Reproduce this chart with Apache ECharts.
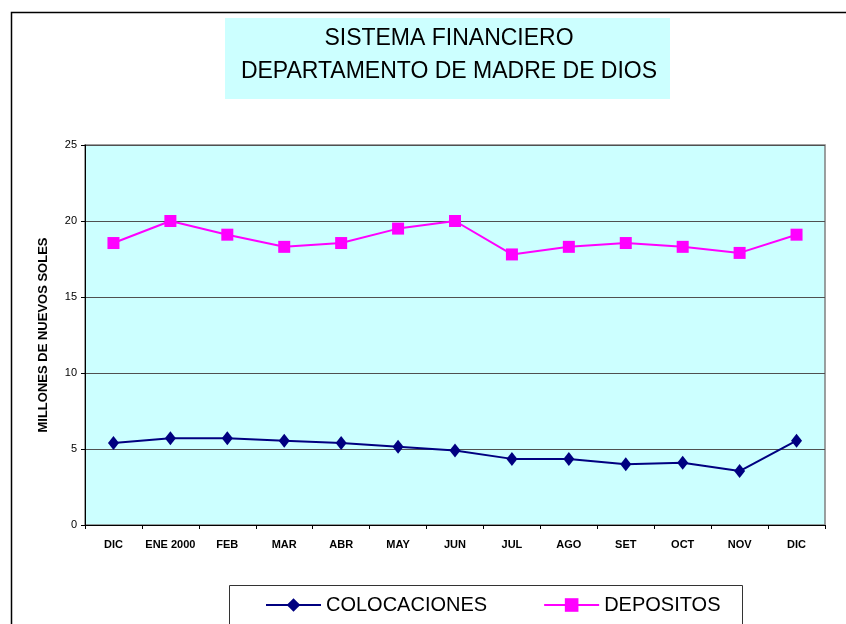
<!DOCTYPE html>
<html>
<head>
<meta charset="utf-8">
<script src="https://cdn.jsdelivr.net/npm/echarts@6/dist/echarts.min.js"></script>
<style>
html,body{margin:0;padding:0;background:#fff;}
#c{width:846px;height:624px;}
</style>
</head>
<body>
<div id="c"></div>
<script>
var categories = ['DIC','ENE 2000','FEB','MAR','ABR','MAY','JUN','JUL','AGO','SET','OCT','NOV','DIC'];
var colocaciones = [5.4,5.7,5.7,5.55,5.4,5.15,4.9,4.35,4.35,4.0,4.1,3.55,5.55];
var depositos = [18.55,20.0,19.1,18.3,18.55,19.5,20.0,17.8,18.3,18.55,18.3,17.9,19.1];
var yTicks = {min:0, max:25, interval:5};
var titleLines = ['SISTEMA FINANCIERO','DEPARTAMENTO DE MADRE DE DIOS'];
var yName = 'MILLONES DE NUEVOS SOLES';

var FONT = '"Liberation Sans", Arial, sans-serif';
var chart = echarts.init(document.getElementById('c'), null, {renderer:'canvas'});
chart.setOption({
  animation:false,
  backgroundColor:'#fff',
  graphic:[
    {type:'rect', z:-10, shape:{x:11.5,y:12.5,width:900,height:700}, style:{fill:'#fff',stroke:'#000',lineWidth:1.5}, silent:true},
    {type:'rect', z:-5, shape:{x:225,y:18,width:445,height:81}, style:{fill:'#CCFFFF'}, silent:true},
    {type:'text', z:1, x:449, y:39, style:{text:titleLines[0], fill:'#000', font:'23px '+FONT, textAlign:'center', textVerticalAlign:'middle'}},
    {type:'text', z:1, x:449, y:72, style:{text:titleLines[1], fill:'#000', font:'23px '+FONT, textAlign:'center', textVerticalAlign:'middle'}},
    {type:'rect', z:-5, shape:{x:229.5,y:585.5,width:513,height:100}, style:{fill:'#fff',stroke:'#333',lineWidth:1}, silent:true}
  ],
  legend:{
    left:260, top:590, itemWidth:55, itemHeight:17, itemGap:56,
    textStyle:{fontFamily:FONT, fontSize:20, color:'#000'},
    data:['COLOCACIONES','DEPOSITOS']
  },
  grid:{left:85, right:21, top:145, bottom:99, show:true, backgroundColor:'#CCFFFF', borderColor:'#808080', borderWidth:1.5},
  xAxis:{
    type:'category', data:categories, boundaryGap:true,
    axisLine:{lineStyle:{color:'#000',width:1}},
    axisTick:{show:true, length:4, lineStyle:{color:'#000'}},
    axisLabel:{fontFamily:FONT, fontSize:11, fontWeight:'bold', color:'#000', margin:14, interval:0},
    splitLine:{show:false}
  },
  yAxis:{
    type:'value', min:yTicks.min, max:yTicks.max, interval:yTicks.interval,
    name:yName, nameLocation:'middle', nameGap:35, nameRotate:90,
    nameTextStyle:{fontFamily:FONT, fontSize:13, fontWeight:'bold', color:'#000'},
    axisLine:{show:true, lineStyle:{color:'#000',width:1}},
    axisTick:{show:true, length:4, lineStyle:{color:'#000'}},
    axisLabel:{fontFamily:FONT, fontSize:11, color:'#000', margin:8},
    splitLine:{show:true, lineStyle:{color:'#505050', width:1}}
  },
  series:[
    {name:'COLOCACIONES', type:'line', data:colocaciones, symbol:'diamond', symbolSize:[11,14],
     lineStyle:{color:'#000080', width:2}, itemStyle:{color:'#000080'}},
    {name:'DEPOSITOS', type:'line', data:depositos, symbol:'rect', symbolSize:12,
     lineStyle:{color:'#FF00FF', width:2}, itemStyle:{color:'#FF00FF'}}
  ]
});
</script>
</body>
</html>
